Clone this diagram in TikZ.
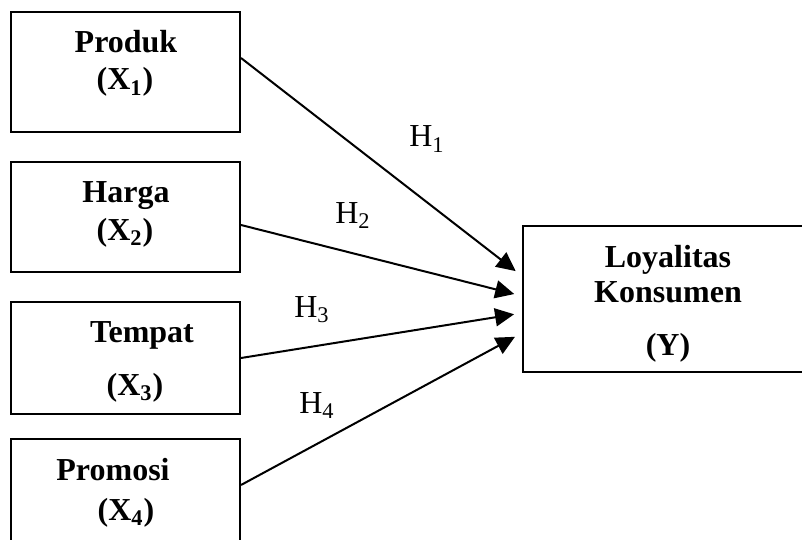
\documentclass[tikz,border=0pt]{standalone}
\usepackage{fontspec}
\setmainfont{Liberation Serif}
\usetikzlibrary{arrows.meta}

\begin{document}
\begin{tikzpicture}[x=0.5pt,y=-0.5pt,
        box/.style={draw,line width=1pt,inner sep=0pt},
        var/.style={anchor=base,font=\fontsize{16pt}{19pt}\selectfont\bfseries},
        hyp/.style={anchor=base,font=\fontsize{16pt}{19pt}\selectfont},
        arr/.style={line width=1pt,-{Triangle[length=9.5pt,width=9pt]},shorten >=4pt}]
        \useasboundingbox (0,0) rectangle (802,540);
        % variabel bebas
        \node[box,minimum width=114.5pt,minimum height=60pt] (X1) at (125.5,72){};
        \node[box,minimum width=114.5pt,minimum height=55pt] (X2) at (125.5,217){};
        \node[box,minimum width=114.5pt,minimum height=56pt] (X3) at (125.5,358){};
        \node[box,minimum width=114.5pt,minimum height=55pt] (X4) at (125.5,494){};
        % variabel terikat
        \node[box,minimum width=145pt,minimum height=73pt] (Y) at (668,299){};
        \node[var] (t1a) at (126,53){Produk};
        \node[var] (t1b) at (125,90){(X\textsubscript{1})};
        \node[var] (t2a) at (126,202){Harga};
        \node[var] (t2b) at (125,240){(X\textsubscript{2})};
        \node[var] (t3a) at (142,342){Tempat};
        \node[var] (t3b) at (135,395){(X\textsubscript{3})};
        \node[var] (t4a) at (113,480){Promosi};
        \node[var] (t4b) at (126,520){(X\textsubscript{4})};
        \node[var] (tya) at (668,267){Loyalitas};
        \node[var] (tyb) at (668,302){Konsumen};
        \node[var] (tyc) at (668,355){(Y)};
        % hipotesis
        \draw[arr] ([yshift=7pt]X1.east) -- ([yshift=11.5pt]Y.west);
        \draw[arr] ([yshift=-4pt]X2.east) -- ([yshift=1.5pt]Y.west);
        \draw[arr] (X3.east) -- ([yshift=-7pt]Y.west);
        \draw[arr] ([yshift=4.5pt]X4.east) -- ([yshift=-17pt]Y.west);
        \node[hyp] (h1) at (427,147){H\textsubscript{1}};
        \node[hyp] (h2) at (353,223){H\textsubscript{2}};
        \node[hyp] (h3) at (312,317){H\textsubscript{3}};
        \node[hyp] (h4) at (317,413){H\textsubscript{4}};
    \end{tikzpicture}
\end{document}
